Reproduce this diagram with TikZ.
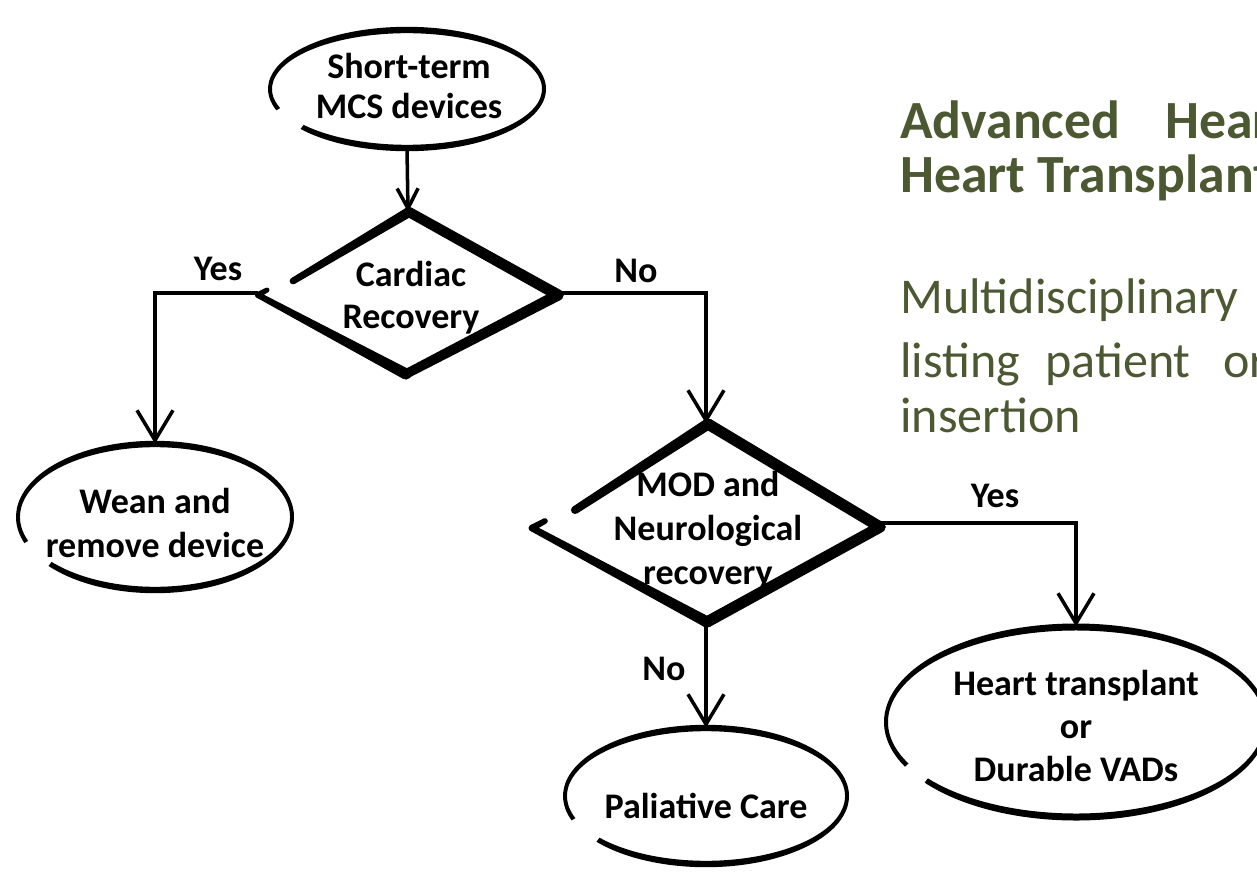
\documentclass[tikz,border=0pt]{standalone}
\usepackage{fontspec}
\setmainfont{Carlito}
\usetikzlibrary{arrows.meta,calc}
\definecolor{titlegreen}{RGB}{75,88,50}

% tapered brush stroke from #1 to #2, half widths #3 and #4
\newcommand\brush[4]{%
  \fill ($(#1)!#3!90:(#2)$) -- ($(#2)!#4!-90:(#1)$) -- ($(#2)!#4!90:(#1)$) -- ($(#1)!#3!-90:(#2)$) -- cycle;
  \fill (#1) circle[radius=#3];
  \fill (#2) circle[radius=#4];}

% open elliptical brush ring around #1: outer radii #2,#3, inner radii #4,#5, from angle #6 to #7
\newcommand\ring[7]{%
  \fill ($(#1)+(#6:#2 and #3)$) arc[start angle=#6, end angle=#7, x radius=#2, y radius=#3]
    -- ($(#1)+(#7:#4 and #5)$) arc[start angle=#7, end angle=#6, x radius=#4, y radius=#5] -- cycle;}

\begin{document}
\begin{tikzpicture}[x=0.02cm,y=-0.02cm,
  shapebox/.style={inner sep=0pt},
  boxtext/.style={inner sep=0pt, align=center, font=\bfseries\fontsize{20.5}{#1}\selectfont},
  conn/.style={line width=2pt, -{Straight Barb[length=0.6cm,width=0.72cm]}},
  shortconn/.style={line width=2pt, -{Straight Barb[length=0.4cm,width=0.42cm]}},
  lbl/.style={anchor=base, font=\bfseries\fontsize{20.5}{24}\selectfont},
  title/.style={anchor=base west, inner sep=0pt, text=titlegreen, font=\bfseries\fontsize{30.6}{36}\selectfont},
  body/.style={anchor=base west, inner sep=0pt, text=titlegreen, font=\fontsize{28.5}{34}\selectfont}]
\useasboundingbox (0,0) rectangle (1257,876);
\clip (0,0) rectangle (1257,876);

% shape nodes (outlines drawn below)
\node[shapebox, minimum width=5.48cm, minimum height=2.36cm] (st) at (407,89) {};
\node[shapebox, minimum width=6cm, minimum height=3.22cm] (d1) at (408,293) {};
\node[shapebox, minimum width=6.96cm, minimum height=3.96cm] (d2) at (706,523) {};
\node[shapebox, minimum width=5.48cm, minimum height=2.92cm] (wean) at (155,517) {};
\node[shapebox, minimum width=5.64cm, minimum height=2.72cm] (pal) at (706,796) {};
\node[shapebox, minimum width=7.6cm, minimum height=3.8cm] (heart) at (1076,722) {};

% texts inside the shapes
\node[boxtext=22.7pt] (stt) at ($(st)+(2,-3)$) {Short-term\\MCS devices};
\node[boxtext=23.8pt] (d1t) at ($(d1)+(3,5)$) {Cardiac\\Recovery};
\node[boxtext=25pt] (d2t) at ($(d2)+(2,8)$) {MOD and\\Neurological\\recovery};
\node[boxtext=25pt] (weant) at ($(wean)+(0,6)$) {Wean and\\remove device};
\node[boxtext=24pt] (palt) at ($(pal)+(0,10)$) {Paliative Care};
\node[boxtext=24.5pt] (heartt) at ($(heart)+(0,4)$) {Heart transplant\\or\\Durable VADs};

% hand-drawn ellipses
\ring{st}{139}{62.2}{135}{55.8}{140}{-200}
\ring{wean}{139}{76.2}{135}{69.8}{140}{-200}
\ring{pal}{143}{71.2}{139}{64.8}{140}{-200}
\ring{heart}{192}{98.5}{188}{91.5}{142}{-207}

% hand-drawn diamonds
\brush{409,212}{293,281}{2.9pt}{1.9pt}
\brush{409,212}{558,295}{2.9pt}{3.2pt}
\brush{558,295}{406,374}{3.2pt}{2.7pt}
\brush{258,295}{406,374}{1.7pt}{3.2pt}
\brush{258,295}{267,290}{1.7pt}{1.4pt}

\brush{708,424}{575,510}{3.2pt}{2.3pt}
\brush{708,424}{880,527}{3.2pt}{3.2pt}
\brush{880,527}{707,622}{3.2pt}{3.2pt}
\brush{532,528}{707,622}{1.9pt}{3.2pt}
\brush{532,528}{545,521}{1.9pt}{1.6pt}

% connectors
\draw[shortconn] (st.south) -- (d1.north);
\draw[conn] (d1.west) -| (wean.north);
\draw[conn] (d1.east) -| (d2.north);
\draw[conn] (d2.east) -| (heart.north);
\draw[conn] (d2.south) -- (pal.north);

% branch labels
\node[lbl] (y1) at (218,280) {Yes};
\node[lbl] (n1) at (636,282) {No};
\node[lbl] (y2) at (995,507) {Yes};
\node[lbl] (n2) at (664,680) {No};

% side text
\node[title] (t1) at (900,138) {Advanced};
\node[title] (t2) at (1165,138) {Heart};
\node[title] (t3) at (900,192) {Heart Transplant};
\node[body] (b1) at (900,313) {Multidisciplinary};
\node[body] (b2) at (900,377) {listing};
\node[body] (b3) at (1045,377) {patient};
\node[body] (b4) at (1223,377) {or};
\node[body] (b5) at (900,432) {insertion};
\end{tikzpicture}
\end{document}
